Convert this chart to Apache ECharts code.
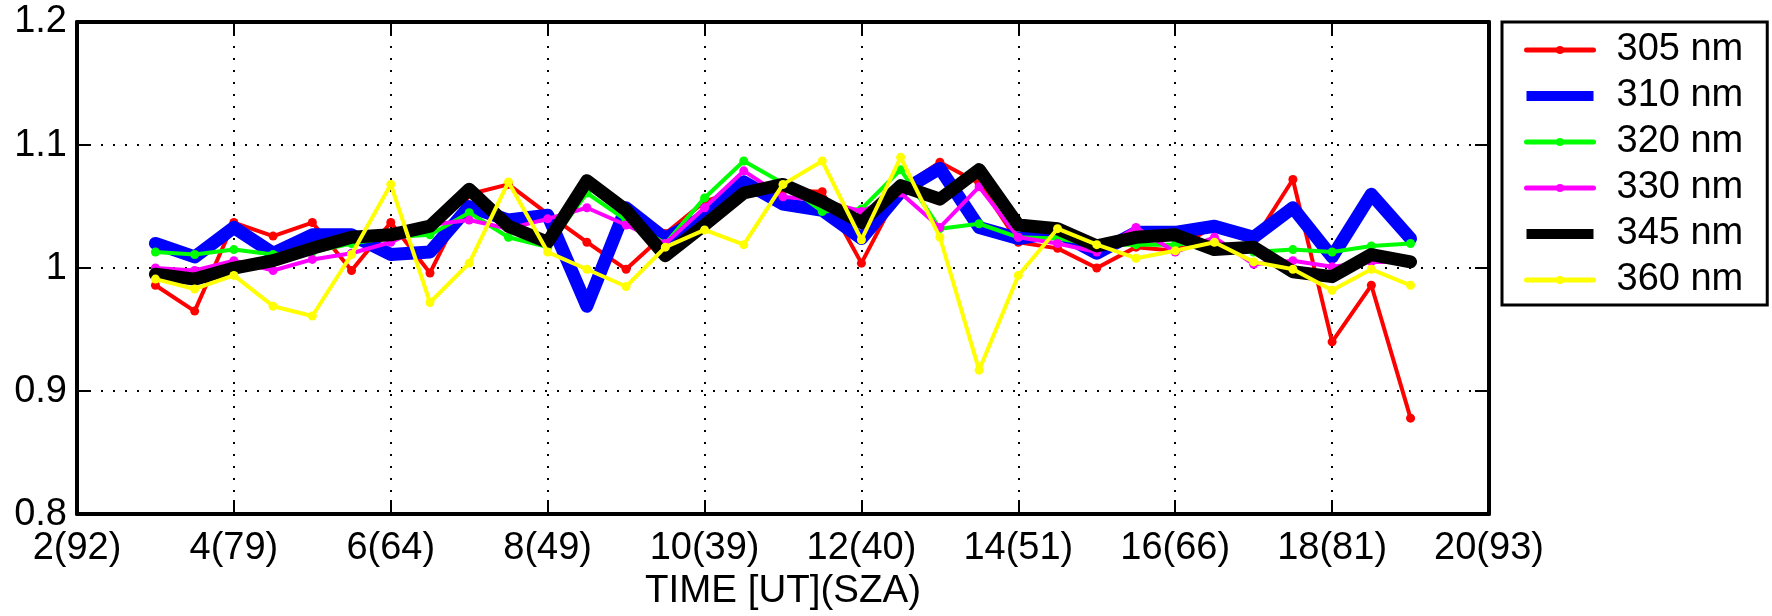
<!DOCTYPE html>
<html>
<head>
<meta charset="utf-8">
<script src="https://cdn.jsdelivr.net/npm/echarts@6/dist/echarts.min.js"></script>
<style>
  html, body { margin: 0; padding: 0; background: #fff; }
  #chart { width: 1772px; height: 616px; }
</style>
</head>
<body>
<div id="chart"></div>
<script>
// time of day [UT], one point every half hour
var hours = [3, 3.5, 4, 4.5, 5, 5.5, 6, 6.5, 7, 7.5, 8, 8.5, 9, 9.5, 10, 10.5, 11,
             11.5, 12, 12.5, 13, 13.5, 14, 14.5, 15, 15.5, 16, 16.5, 17, 17.5, 18, 18.5, 19];

var nm305 = [0.986, 0.965, 1.037, 1.026, 1.037, 0.998, 1.037, 0.996, 1.060, 1.068, 1.044,
             1.021, 0.999, 1.028, 1.054, 1.065, 1.063, 1.062, 1.004, 1.065, 1.086, 1.069,
             1.021, 1.016, 1.000, 1.017, 1.014, 1.035, 1.022, 1.072, 0.940, 0.986, 0.878];
var nm310 = [1.020, 1.009, 1.033, 1.012, 1.027, 1.027, 1.011, 1.013, 1.050, 1.039, 1.043,
             0.969, 1.049, 1.024, 1.042, 1.070, 1.052, 1.047, 1.024, 1.062, 1.081, 1.033,
             1.024, 1.029, 1.012, 1.029, 1.029, 1.034, 1.025, 1.049, 1.009, 1.060, 1.024];
var nm320 = [1.013, 1.011, 1.015, 1.011, 1.013, 1.020, 1.025, 1.027, 1.045, 1.025, 1.017,
             1.061, 1.039, 1.020, 1.057, 1.087, 1.069, 1.046, 1.048, 1.080, 1.032, 1.036,
             1.025, 1.024, 1.019, 1.019, 1.019, 1.022, 1.013, 1.015, 1.013, 1.018, 1.020];
var nm330 = [1.000, 0.998, 1.006, 0.998, 1.007, 1.012, 1.021, 1.035, 1.039, 1.032, 1.040,
             1.049, 1.035, 1.020, 1.049, 1.079, 1.058, 1.055, 1.046, 1.061, 1.033, 1.066,
             1.025, 1.020, 1.013, 1.033, 1.013, 1.025, 1.003, 1.006, 1.001, 1.005, 1.005];
var nm345 = [0.995, 0.991, 1.000, 1.006, 1.016, 1.025, 1.027, 1.034, 1.064, 1.034, 1.021,
             1.071, 1.047, 1.010, 1.035, 1.061, 1.068, 1.054, 1.037, 1.067, 1.056, 1.080,
             1.035, 1.032, 1.018, 1.025, 1.027, 1.015, 1.017, 0.997, 0.993, 1.011, 1.005];
var nm360 = [0.991, 0.983, 0.994, 0.969, 0.961, 1.011, 1.068, 0.972, 1.004, 1.070, 1.013,
             0.999, 0.985, 1.017, 1.031, 1.019, 1.068, 1.087, 1.023, 1.090, 1.025, 0.917,
             0.994, 1.032, 1.019, 1.008, 1.014, 1.021, 1.005, 0.999, 0.982, 0.999, 0.986];

var names = ['305 nm', '310 nm', '320 nm', '330 nm', '345 nm', '360 nm'];
var colors = ['#ff0000', '#0000ff', '#00ff00', '#ff00ff', '#000000', '#ffff00'];
var xTickLabels = ['2(92)', '4(79)', '6(64)', '8(49)', '10(39)', '12(40)', '14(51)',
                   '16(66)', '18(81)', '20(93)'];
var yTickLabels = ['0.8', '0.9', '1', '1.1', '1.2'];

var FONT = 'Liberation Sans, Arial, Helvetica, sans-serif';

function pairs(vals) {
    return hours.map(function (h, i) { return [h, vals[i]]; });
}

var allVals = [nm305, nm310, nm320, nm330, nm345, nm360];
var thick = [false, true, false, false, true, false];

var series = allVals.map(function (vals, i) {
    return {
        name: names[i],
        type: 'line',
        data: pairs(vals),
        symbol: thick[i] ? 'none' : 'circle',
        symbolSize: 9,
        showSymbol: !thick[i],
        itemStyle: { color: colors[i], borderWidth: 0 },
        lineStyle: { color: colors[i], width: thick[i] ? 13 : 4, cap: 'round', join: 'round' },
        z: 2 + i,
        animation: false
    };
});

var chart = echarts.init(document.getElementById('chart'), null, { renderer: 'canvas' });

var dotted = { color: '#000', width: 2, type: [2, 10] };
var boxLine = { show: true, onZero: false, lineStyle: { color: '#000', width: 4 } };
var inTick = { show: true, inside: true, length: 14, lineStyle: { color: '#000', width: 2 } };

chart.setOption({
    backgroundColor: '#fff',
    animation: false,
    textStyle: { fontFamily: FONT },
    grid: { left: 77, right: 283, top: 22, bottom: 96, containLabel: false },
    legend: {
        orient: 'vertical',
        left: 1502,
        top: 22,
        padding: [8, 24, 5, 22],
        itemGap: 6,
        itemWidth: 67,
        itemHeight: 10,
        backgroundColor: '#fff',
        borderColor: '#000',
        borderWidth: 3,
        borderRadius: 0,
        textStyle: { fontFamily: FONT, fontSize: 38, color: '#000', lineHeight: 40, padding: [0, 0, 0, 18] },
        data: names.map(function (n, i) {
            return {
                name: n,
                icon: thick[i] ? 'rect' : undefined,
                lineStyle: { width: thick[i] ? 13 : 5, color: colors[i] },
                itemStyle: { color: colors[i], borderWidth: 0 }
            };
        })
    },
    xAxis: [{
        type: 'value',
        min: 2, max: 20, interval: 2,
        position: 'bottom',
        name: 'TIME [UT](SZA)',
        nameLocation: 'middle',
        nameGap: 55,
        nameTextStyle: { fontFamily: FONT, fontSize: 38.5, color: '#000' },
        axisLine: boxLine,
        axisTick: inTick,
        axisLabel: {
            margin: 15, fontSize: 38, color: '#000', fontFamily: FONT,
            formatter: function (v) { return xTickLabels[Math.round((v - 2) / 2)]; }
        },
        splitLine: { show: true, lineStyle: dotted }
    }, {
        type: 'value',
        min: 2, max: 20, interval: 2,
        position: 'top',
        axisLine: boxLine,
        axisTick: inTick,
        axisLabel: { show: false },
        splitLine: { show: false }
    }],
    yAxis: [{
        type: 'value',
        min: 0.8, max: 1.2, interval: 0.1,
        position: 'left',
        axisLine: boxLine,
        axisTick: inTick,
        axisLabel: {
            margin: 10, fontSize: 38, color: '#000', fontFamily: FONT,
            formatter: function (v) { return yTickLabels[Math.round((v - 0.8) / 0.1)]; }
        },
        splitLine: { show: true, lineStyle: dotted }
    }, {
        type: 'value',
        min: 0.8, max: 1.2, interval: 0.1,
        position: 'right',
        axisLine: boxLine,
        axisTick: inTick,
        axisLabel: { show: false },
        splitLine: { show: false }
    }],
    series: series
});
</script>
</body>
</html>
